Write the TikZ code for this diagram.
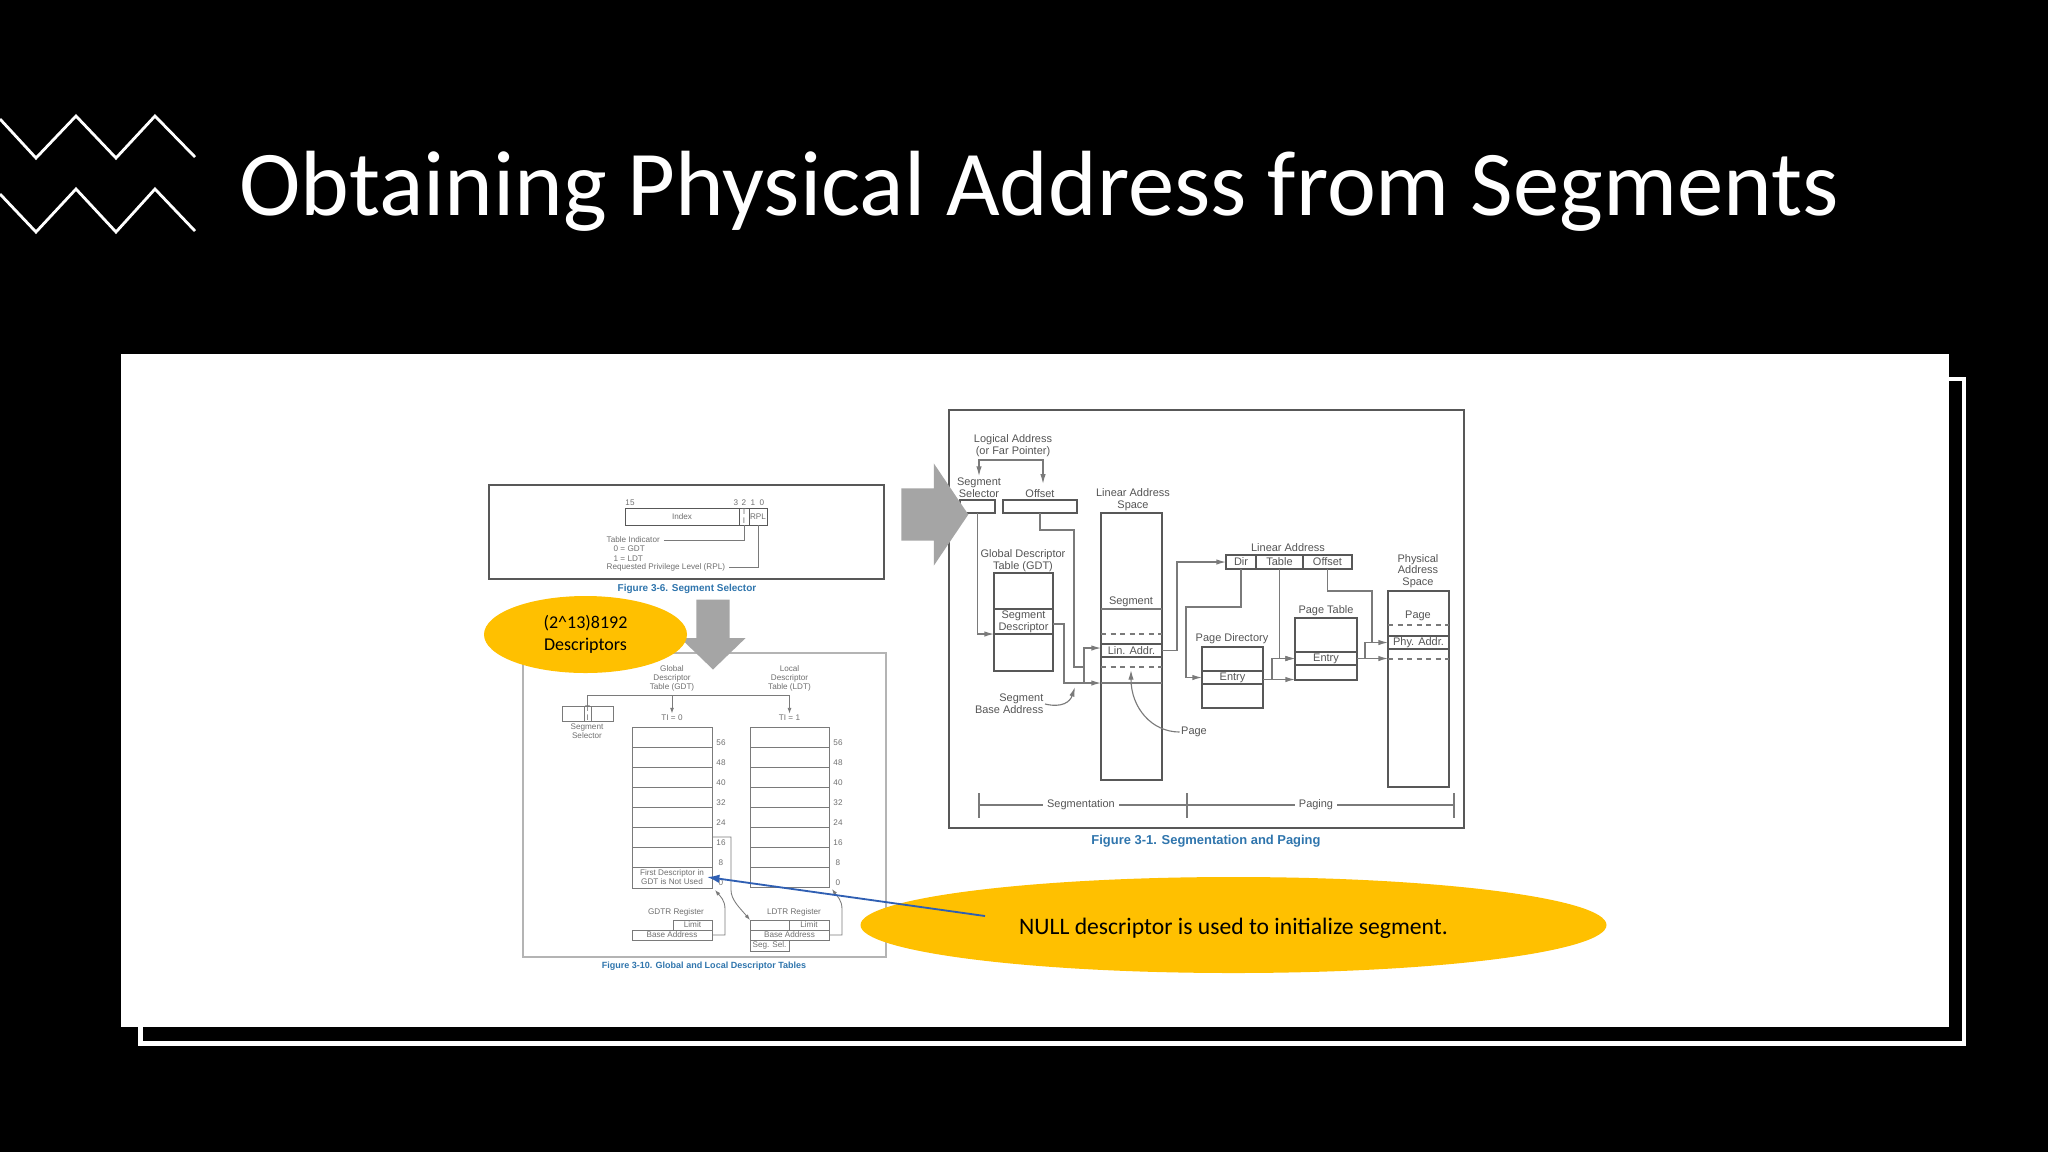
\documentclass[tikz,border=0pt]{standalone}
\usepackage{fontspec}
\usepackage{xcolor}
\usepackage{tikz}
\usetikzlibrary{shapes.geometric, shapes.arrows, arrows.meta, calc}
\setmainfont{Carlito}
\newfontfamily\figfont{Liberation Sans}
\definecolor{callout}{HTML}{FFC000}
\definecolor{blockgray}{HTML}{A5A5A5}
\definecolor{pointer}{HTML}{2F5FB3}
\definecolor{figblue}{HTML}{2F75AD}
\definecolor{darkline}{HTML}{585858}
\definecolor{midline}{HTML}{7A7A7A}
\definecolor{paleline}{HTML}{B4B4B4}
\definecolor{figtext}{HTML}{555555}
\definecolor{smalltext}{HTML}{707070}
\tikzset{
    boxsize/.style 2 args={minimum width=#1*0.0125cm, minimum height=#2*0.0125cm},
    rbox/.style={rectangle, draw=darkline, line width=0.5pt, inner sep=0pt, outer sep=0pt, text=figtext, align=center, font=\figfont\fontsize{3.9pt}{4.2pt}\selectfont},
    lbox/.style={rectangle, draw=midline, line width=0.3pt, inner sep=0pt, outer sep=0pt, text=smalltext, align=center, font=\figfont\fontsize{2.9pt}{3.2pt}\selectfont},
    frame/.style={rectangle, draw=#1, line width=0.55pt, inner sep=0pt, outer sep=0pt},
    rtext/.style={inner sep=0.4pt, text=figtext, align=center, font=\figfont\fontsize{3.9pt}{4.2pt}\selectfont},
    ltext/.style={inner sep=0.4pt, text=smalltext, align=center, font=\figfont\fontsize{2.9pt}{3.2pt}\selectfont},
    caption/.style={inner sep=0pt, text=figblue, font=\figfont\bfseries\fontsize{#1}{#1}\selectfont},
    bubble/.style={ellipse, fill=callout, inner sep=0pt, align=center, text=black},
    bigarrow/.style={single arrow, fill=blockgray, inner xsep=0pt, outer sep=0pt},
    rflow/.style={draw=midline, line width=0.4pt},
    rarrow/.style={rflow, -{Latex[length=3.4pt,width=1.9pt]}},
    rdash/.style={rflow, dash pattern=on 1.8pt off 1.6pt},
    lflow/.style={draw=midline, line width=0.3pt},
    larrow/.style={lflow, -{Latex[length=2pt,width=1.4pt]}},
    zigzag/.style={draw=white, line width=1pt, miter limit=4}
}
\begin{document}
\begin{tikzpicture}[x=0.0125cm, y=-0.0125cm]
    \useasboundingbox (0,0) rectangle (2048,1152);
    \fill[black] (0,0) rectangle (2048,1152);

    % Title
    \draw [zigzag] (0,119) -- (36,158) -- (76,116) -- (116,158) -- (155,116) -- (195,157);
    \draw [zigzag] (0,194) -- (36,232) -- (76,189) -- (116,232) -- (155,189) -- (195,231);
    \node [anchor=base west, inner sep=0pt, text=white, font=\fontsize{32.95pt}{36pt}\selectfont] (title) at (239,215) {Obtaining Physical Address from Segments};

    % Panel
    \node [draw=white, line width=1.6pt, inner sep=0pt, boxsize={1823.5}{664.5}] (shadowframe) at (1052.25,711.25) {};
    \node [fill=white, inner sep=0pt, boxsize={1828}{673}] (panel) at (1035,690.5) {};

    % Segment selector figure
    \node [frame=darkline, boxsize={395}{94}] (selframe) at (686.5,532) {};
    \node [lbox, draw=darkline, boxsize={114}{17}] (indexcell) at (682,516.5) {Index};
    \node [lbox, draw=darkline, boxsize={10}{17}] (ticell) at (744,516.5) {T\\I};
    \node [lbox, draw=darkline, boxsize={18}{17}] (rplcell) at (758,516.5) {RPL};
    \foreach \bx/\bit in {630/15, 736/3, 744/2, 753/1, 762/0}
        \node [ltext] (bit\bit) at (\bx,503) {\bit};
    \node [ltext, anchor=west, inner xsep=1.3pt] (tilabel) at (602.5,540) {Table Indicator};
    \node [ltext, anchor=west] (gdtvalue) at (612,549) {0 = GDT};
    \node [ltext, anchor=west] (ldtvalue) at (612,559) {1 = LDT};
    \node [ltext, anchor=west, inner xsep=1.3pt] (rpllabel) at (602.5,567) {Requested Privilege Level (RPL)};
    \node [caption=3.55pt] (selcaption) at (687,589) {Figure 3-6. Segment Selector};
    \draw [lflow] (tilabel.east) -| (ticell.south);
    \draw [lflow] (rpllabel.east) -| (rplcell.south);

    % Descriptor tables figure
    \node [frame=paleline, boxsize={363}{304}] (tabframe) at (704.5,805) {};
    \node [ltext] (gdttitle) at (672,678) {Global\\Descriptor\\Table (GDT)};
    \node [ltext] (ldttitle) at (789.5,678) {Local\\Descriptor\\Table (LDT)};
    \node [lbox, boxsize={22}{15}] (selleft) at (573,713.5) {};
    \node [lbox, boxsize={7}{15}] (selti) at (587.5,713.5) {T\\I};
    \node [lbox, boxsize={22}{15}] (selright) at (602,713.5) {};
    \node [ltext] (selname) at (587,731.5) {Segment\\Selector};
    \node [ltext] (tizero) at (672,718) {TI = 0};
    \node [ltext] (tione) at (789.5,718) {TI = 1};
    \coordinate (tablesplit) at (672,695);
    \foreach \i in {1,...,7}
        \node [lbox, boxsize={80}{20}] (gdtrow\i) at (672,{717+20*\i}) {};
    \node [lbox, boxsize={80}{21}] (gdtrow8) at (672,877.5) {First Descriptor in\\GDT is Not Used};
    \foreach \i in {1,...,8}
        \node [lbox, boxsize={79}{20}] (ldtrow\i) at (789.5,{717+20*\i}) {};
    \foreach \i/\bits in {1/56, 2/48, 3/40, 4/32, 5/24, 6/16, 7/8, 8/0} {
        \node [ltext] (gdtbit\bits) at (721,{723+20*\i}) {\bits};
        \node [ltext] (ldtbit\bits) at (838,{723+20*\i}) {\bits};
    }
    \node [ltext] (gdtrname) at (676,912) {GDTR Register};
    \node [lbox, boxsize={39}{10}] (gdtrlimit) at (692.5,925) {Limit};
    \node [lbox, boxsize={80}{10}] (gdtrbase) at (672,935) {Base Address};
    \node [ltext] (ldtrname) at (794,912) {LDTR Register};
    \node [lbox, boxsize={39}{10}] (ldtrpad) at (769.5,925) {};
    \node [lbox, boxsize={40}{10}] (ldtrlimit) at (809,925) {Limit};
    \node [lbox, boxsize={79}{10}] (ldtrbase) at (789.5,935) {Base Address};
    \node [lbox, boxsize={39}{11}] (ldtrsel) at (769.5,945.5) {Seg. Sel.};
    \node [caption=3.2pt] (tabcaption) at (704,966) {Figure 3-10. Global and Local Descriptor Tables};
    \draw [lflow] (selti.north) |- (tablesplit);
    \draw [larrow] (tablesplit) -- (tizero.north);
    \draw [larrow] (tablesplit) -| (tione.north);
    \draw [larrow] (gdtrow6.east) -- (731,837) -- (731,890) .. controls (731,900) and (740,908) .. (ldtrpad.north west);
    \draw [larrow] (gdtrbase.east) -- (725,935) -- (725,909) .. controls (725,900) and (720,896) .. ([shift={(3,2)}]gdtrow8.south east);
    \draw [larrow] (ldtrbase.east) -- (842,935) -- (842,909) .. controls (842,900) and (837,896) .. ([shift={(3,2)}]ldtrow8.south east);

    % Segmentation and paging figure
    \node [frame=darkline, boxsize={515}{418}] (pageframe) at (1206.5,619) {};
    \node [rtext] (logaddr) at (1013,446) {Logical Address\\(or Far Pointer)};
    \coordinate (logjoin) at (1013,460);
    \node [rtext] (selname2) at (979,487.5) {Segment\\Selector};
    \node [rtext] (offsetname) at (1040,493.5) {Offset};
    \node [rbox, boxsize={35}{13}] (selbox) at (977.5,506.5) {};
    \node [rbox, boxsize={74}{13}] (offsetbox) at (1040,506.5) {};
    \node [rtext] (gdtname) at (1023,560.5) {Global Descriptor\\Table (GDT)};
    \node [rbox, boxsize={59}{98}] (gdtbox) at (1023.5,622) {};
    \node [rbox, boxsize={59}{25}] (segdesc) at (1023.5,621.5) {Segment\\Descriptor};
    \node [rtext, align=right, anchor=east] (baselabel) at (1045,704) {Segment\\Base Address};
    \node [rtext] (linname) at (1133,499.5) {Linear Address\\Space};
    \node [rbox, boxsize={61}{267}] (linspace) at (1131.5,646.5) {};
    \node [rtext] (segname) at (1131,602) {Segment};
    \node [rbox, boxsize={61}{13}] (lineaddr) at (1131.5,650.5) {Lin. Addr.};
    \foreach \ly/\ls in {609/solid, 634/rdash, 667/rdash, 683/solid}
        \draw [rflow, \ls] (linspace.west |- 0,\ly) -- (linspace.east |- 0,\ly);
    \node [rtext] (pagelabel) at (1194,732) {Page};
    \node [rtext] (linaddrname) at (1288,548) {Linear Address};
    \node [rbox, boxsize={30}{14}] (dircell) at (1241,562) {Dir};
    \node [rbox, boxsize={47}{14}] (tablecell) at (1279.5,562) {Table};
    \node [rbox, boxsize={49}{14}] (offcell) at (1327.5,562) {Offset};
    \node [rtext] (pdname) at (1232,639) {Page Directory};
    \node [rbox, boxsize={61}{61}] (pdbox) at (1232.5,677.5) {};
    \node [rbox, boxsize={61}{13}] (pdentry) at (1232.5,677.5) {Entry};
    \node [rtext] (ptname) at (1326,611) {Page Table};
    \node [rbox, boxsize={62}{62}] (ptbox) at (1326,649) {};
    \node [rbox, boxsize={62}{13}] (ptentry) at (1326,658.5) {Entry};
    \node [rtext] (physname) at (1418,571) {Physical\\Address\\Space};
    \node [rbox, boxsize={61}{196}] (physpace) at (1418.5,689) {};
    \node [rtext] (physpage) at (1418,616) {Page};
    \node [rbox, boxsize={61}{13}] (phyaddr) at (1418.5,642.5) {Phy. Addr.};
    \foreach \ly in {625, 659}
        \draw [rdash] (physpace.west |- 0,\ly) -- (physpace.east |- 0,\ly);
    \coordinate (barleft) at (979,805);
    \coordinate (barmid) at (1187,805);
    \coordinate (barright) at (1454,805);
    \node [rtext, inner xsep=1.3pt] (seglabel) at (1081,805) {Segmentation};
    \node [rtext, inner xsep=1.3pt] (paginglabel) at (1316,805) {Paging};
    \node [caption=4.6pt] (pagecaption) at (1206,841) {Figure 3-1. Segmentation and Paging};
    \coordinate (offjoin) at (1084,667);
    \coordinate (basejoin) at (1084,683);
    \coordinate (ptjoin) at (1272,679.5);
    \coordinate (physjoin) at (1365,658.5);

    \draw [rarrow] (logjoin) -| (selname2.north);
    \draw [rarrow] (logjoin) -| ([shift={(3,-4)}]offsetname.north);
    \draw [rarrow] (selbox.south) |- (segdesc.south west);
    \draw [rflow] (offsetbox.south) |- (1074,530) |- (offjoin);
    \draw [rarrow] ([shift={(0,2.5)}]segdesc.east) -| (1064,683) -- (linspace.west |- basejoin);
    \draw [rarrow] (basejoin) |- (linspace.west |- 0,648);
    \draw [rarrow] (baselabel.east) .. controls (1062,708) and (1070,702) .. (1075,687);
    \draw [rarrow] (pagelabel.west) .. controls (1152,732) and (1131,708) .. (1131,670);
    \draw [rarrow] (lineaddr.east) -| (1177,600) |- (dircell.west);
    \draw [rarrow] (dircell.south) |- (1186,607) |- (pdentry.west);
    \draw [rarrow] (tablecell.south) |- (ptentry.west);
    \draw [rflow] (pdentry.east |- ptjoin) -- (ptjoin);
    \draw [rarrow] (ptjoin) -- (ptbox.west |- ptjoin);
    \draw [rarrow] (ptjoin) |- (ptentry.west);
    \draw [rarrow] (ptentry.east) -- (physpace.west |- ptentry.east);
    \draw [rarrow] (physjoin) |- (phyaddr.west);
    \draw [rflow] (offcell.south) |- (1372,591) -- (1372,642.5);
    \draw [rflow] (barleft) -- (seglabel.west);
    \draw [rflow] (seglabel.east) -- (barmid) -- (paginglabel.west);
    \draw [rflow] (paginglabel.east) -- (barright);
    \foreach \mark in {barleft, barmid, barright}
        \draw [rflow, line width=0.55pt] ([shift={(0,-12)}]\mark) -- ([shift={(0,13)}]\mark);

    % Block arrows
    \node [bigarrow, rotate=-90, inner ysep=16*0.0125cm, minimum height=70*0.0125cm, single arrow head extend=16*0.0125cm, single arrow tip angle=92] (downblock) at (713,626.5) {};
    \node [bigarrow, inner ysep=25.5*0.0125cm, minimum height=67*0.0125cm, single arrow head extend=25*0.0125cm, single arrow tip angle=112] (rightblock) at (926,514.5) {};

    % Callouts
    \node [bubble, boxsize={203}{77}, font=\fontsize{6.4pt}{7.7pt}\selectfont] (countcallout) at (585.5,634.5) {(2\^{}13)8192\\Descriptors};
    \node [bubble, boxsize={746}{96}, font=\fontsize{8.4pt}{9pt}\selectfont] (nullcallout) at (1233.5,925) {\raisebox{-3.2pt}[0pt][0pt]{NULL descriptor is used to initialize segment.}};
    \coordinate (nullstart) at (985,916);
    \draw [pointer, line width=0.65pt, -{Latex[length=4.4pt,width=3pt]}] (nullstart) -- ([shift={(-5,-0.5)}]gdtrow8.east);
\end{tikzpicture}
\end{document}
